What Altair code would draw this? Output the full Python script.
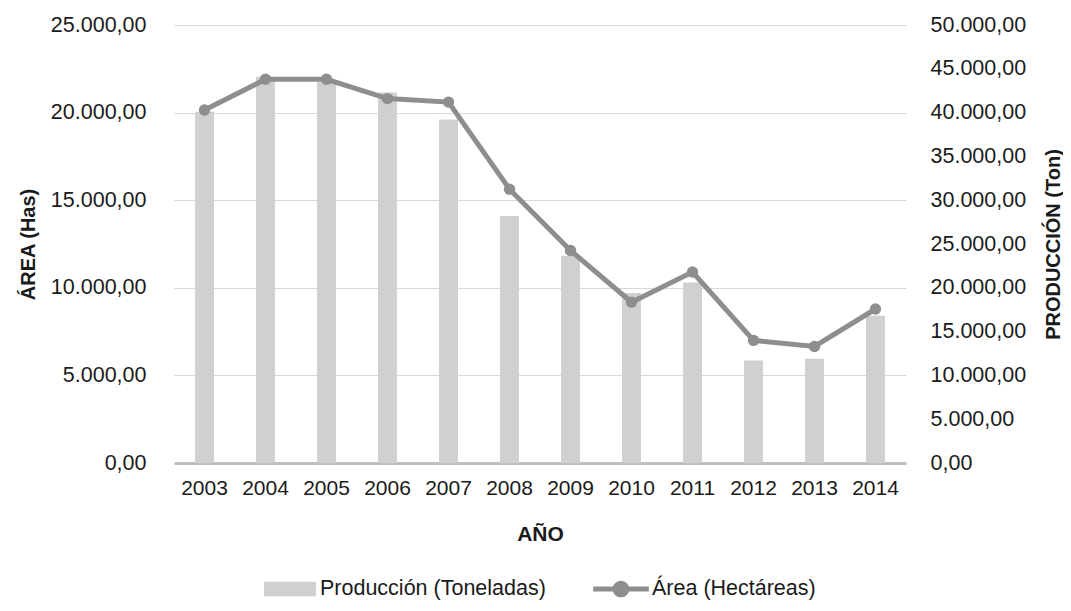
import altair as alt
import pandas as pd

years = ["2003", "2004", "2005", "2006", "2007", "2008", "2009", "2010", "2011", "2012", "2013", "2014"]
produccion_ton = [40100, 44100, 43500, 42300, 39200, 28200, 23650, 19400, 20600, 11700, 11900, 16800]
area_has = [20150, 21900, 21900, 20800, 20600, 15630, 12130, 9180, 10900, 7000, 6650, 8790]

left_ticks = [0, 5000, 10000, 15000, 20000, 25000]
right_ticks = [0, 5000, 10000, 15000, 20000, 25000, 30000, 35000, 40000, 45000, 50000]

df = pd.DataFrame({"Año": years, "Producción": produccion_ton, "Área": area_has})

FONT = "Liberation Sans, Arial, sans-serif"
TXT = "#1a1a1a"
LINE = "#8e8e8e"
BAR = "#d0d0d0"
FMT = "replace(replace(replace(format(datum.value, ',.2f'), regexp(',', 'g'), '#'), '.', ','), regexp('#', 'g'), '.')"

base = alt.Chart(df)

x = alt.X("Año:O", title="AÑO",
          scale=alt.Scale(paddingInner=0.69, paddingOuter=0.345),
          axis=alt.Axis(labelAngle=0, ticks=False, domainColor="#bfbfbf", domainWidth=3,
                        labelPadding=14, titlePadding=25, labelFontSize=21, titleFontSize=21))

bars = base.transform_calculate(serie="'Producción (Toneladas)'").mark_bar().encode(
    x=x,
    y=alt.Y("Producción:Q", title="PRODUCCIÓN (Ton)",
            scale=alt.Scale(domain=[0, 50000], nice=False),
            axis=alt.Axis(orient="right", values=right_ticks, grid=False, ticks=False, domain=False,
                          labelExpr=FMT, labelPadding=24, titlePadding=38, titleAngle=270,
                          labelFontSize=21.5, titleFontSize=20)),
    fill=alt.Fill("serie:N", scale=alt.Scale(domain=["Producción (Toneladas)"], range=[BAR]),
                  legend=alt.Legend(title=None, orient="none", legendX=90, legendY=538,
                                    symbolType="M-1,-0.28H1V0.28H-1Z", labelLimit=400,
                                    symbolSize=2700, symbolStrokeWidth=0, labelFontSize=21.5,
                                    labelOffset=4)),
)

line = base.mark_line(color=LINE, strokeWidth=5).encode(
    x=x,
    y=alt.Y("Área:Q", title="ÁREA (Has)",
            scale=alt.Scale(domain=[0, 25000], nice=False),
            axis=alt.Axis(orient="left", values=left_ticks, grid=True, gridColor="#d9d9d9",
                          ticks=False, domain=False, labelExpr=FMT, labelPadding=28,
                          titlePadding=12, labelFontSize=21.5, titleFontSize=20)),
)

points = base.transform_calculate(serie2="'Área (Hectáreas)'").mark_circle(size=130, opacity=1).encode(
    x=x,
    y=alt.Y("Área:Q", scale=alt.Scale(domain=[0, 25000], nice=False), axis=None),
    fill=alt.Fill("serie2:N", scale=alt.Scale(domain=["Área (Hectáreas)"], range=[LINE]),
                  legend=alt.Legend(title=None, orient="none", legendX=419, legendY=536,
                                    symbolType="M-1,-0.09H1V0.09H-1Z M0.3,0A0.3,0.3 0 1,1 -0.3,0A0.3,0.3 0 1,1 0.3,0Z",
                                    symbolSize=3100, symbolStrokeWidth=0, labelFontSize=21.5,
                                    labelOffset=3, labelLimit=400)),
)

chart = alt.layer(bars, line, points).resolve_scale(y="independent", fill="independent").properties(
    width=732, height=438,
    autosize=alt.AutoSizeParams(type="none"),
    padding={"left": 166, "top": 17, "right": 157, "bottom": 140},
).configure_view(stroke=None).configure_axis(
    labelFont=FONT, titleFont=FONT, labelColor=TXT, titleColor=TXT, titleFontWeight="bold",
).configure_legend(
    labelFont=FONT, labelColor=TXT,
)

chart.save("out.html", embed_options={"renderer": "svg", "actions": False})
